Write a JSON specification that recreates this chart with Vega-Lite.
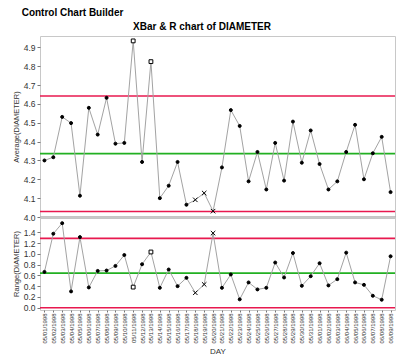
{
  "$schema": "https://vega.github.io/schema/vega-lite/v6.json",
  "padding": {"left": 11, "top": 7, "right": 5, "bottom": 2},
  "background": "white",
  "spacing": 0,
  "bounds": "flush",
  "title": {"text": "Control Chart Builder", "anchor": "start", "fontSize": 10, "fontWeight": "bold", "font": "Liberation Sans", "color": "#000000", "dx": 10, "offset": 4},
  "config": {
    "font": "Liberation Sans",
    "view": {"stroke": "#c8c8c8"},
    "axis": {"labelColor": "#333333", "titleColor": "#333333", "titleFontWeight": "normal", "grid": false, "tickColor": "#777777", "domain": false, "labelOverlap": false},
    "axisY": {"labelOverlap": false, "labelSeparation": 0},
    "axisQuantitative": {"labelOverlap": false}
  },
  "datasets": {
    "samples": [
      {"DAY": "05/01/1998", "Average": 4.300, "Range": 0.666, "Marker": "Dot"},
      {"DAY": "05/02/1998", "Average": 4.317, "Range": 1.376, "Marker": "Dot"},
      {"DAY": "05/03/1998", "Average": 4.531, "Range": 1.572, "Marker": "Dot"},
      {"DAY": "05/04/1998", "Average": 4.498, "Range": 0.303, "Marker": "Dot"},
      {"DAY": "05/05/1998", "Average": 4.113, "Range": 1.313, "Marker": "Dot"},
      {"DAY": "05/06/1998", "Average": 4.579, "Range": 0.377, "Marker": "Dot"},
      {"DAY": "05/07/1998", "Average": 4.437, "Range": 0.684, "Marker": "Dot"},
      {"DAY": "05/08/1998", "Average": 4.632, "Range": 0.691, "Marker": "Dot"},
      {"DAY": "05/09/1998", "Average": 4.389, "Range": 0.777, "Marker": "Dot"},
      {"DAY": "05/10/1998", "Average": 4.393, "Range": 0.980, "Marker": "Dot"},
      {"DAY": "05/11/1998", "Average": 4.934, "Range": 0.383, "Marker": "Square"},
      {"DAY": "05/12/1998", "Average": 4.292, "Range": 0.808, "Marker": "Dot"},
      {"DAY": "05/13/1998", "Average": 4.824, "Range": 1.036, "Marker": "Square"},
      {"DAY": "05/14/1998", "Average": 4.100, "Range": 0.370, "Marker": "Dot"},
      {"DAY": "05/15/1998", "Average": 4.166, "Range": 0.710, "Marker": "Dot"},
      {"DAY": "05/16/1998", "Average": 4.292, "Range": 0.401, "Marker": "Dot"},
      {"DAY": "05/17/1998", "Average": 4.065, "Range": 0.555, "Marker": "Dot"},
      {"DAY": "05/18/1998", "Average": 4.091, "Range": 0.277, "Marker": "X"},
      {"DAY": "05/19/1998", "Average": 4.127, "Range": 0.433, "Marker": "X"},
      {"DAY": "05/20/1998", "Average": 4.031, "Range": 1.387, "Marker": "X"},
      {"DAY": "05/21/1998", "Average": 4.263, "Range": 0.370, "Marker": "Dot"},
      {"DAY": "05/22/1998", "Average": 4.567, "Range": 0.618, "Marker": "Dot"},
      {"DAY": "05/23/1998", "Average": 4.483, "Range": 0.155, "Marker": "Dot"},
      {"DAY": "05/24/1998", "Average": 4.189, "Range": 0.470, "Marker": "Dot"},
      {"DAY": "05/25/1998", "Average": 4.345, "Range": 0.340, "Marker": "Dot"},
      {"DAY": "05/26/1998", "Average": 4.146, "Range": 0.370, "Marker": "Dot"},
      {"DAY": "05/27/1998", "Average": 4.393, "Range": 0.840, "Marker": "Dot"},
      {"DAY": "05/28/1998", "Average": 4.193, "Range": 0.562, "Marker": "Dot"},
      {"DAY": "05/29/1998", "Average": 4.506, "Range": 1.017, "Marker": "Dot"},
      {"DAY": "05/30/1998", "Average": 4.288, "Range": 0.407, "Marker": "Dot"},
      {"DAY": "05/31/1998", "Average": 4.459, "Range": 0.586, "Marker": "Dot"},
      {"DAY": "06/01/1998", "Average": 4.281, "Range": 0.827, "Marker": "Dot"},
      {"DAY": "06/02/1998", "Average": 4.146, "Range": 0.414, "Marker": "Dot"},
      {"DAY": "06/03/1998", "Average": 4.189, "Range": 0.531, "Marker": "Dot"},
      {"DAY": "06/04/1998", "Average": 4.345, "Range": 1.024, "Marker": "Dot"},
      {"DAY": "06/05/1998", "Average": 4.489, "Range": 0.470, "Marker": "Dot"},
      {"DAY": "06/06/1998", "Average": 4.200, "Range": 0.425, "Marker": "Dot"},
      {"DAY": "06/07/1998", "Average": 4.338, "Range": 0.222, "Marker": "Dot"},
      {"DAY": "06/08/1998", "Average": 4.425, "Range": 0.148, "Marker": "Dot"},
      {"DAY": "06/09/1998", "Average": 4.132, "Range": 0.956, "Marker": "Dot"}
    ],
    "limits": [
      {"Chart": "Average", "Limit": "UCL", "Value": 4.642},
      {"Chart": "Average", "Limit": "CL", "Value": 4.336},
      {"Chart": "Average", "Limit": "LCL", "Value": 4.029},
      {"Chart": "Range", "Limit": "UCL", "Value": 1.289},
      {"Chart": "Range", "Limit": "CL", "Value": 0.643},
      {"Chart": "Range", "Limit": "LCL", "Value": 0}
    ]
  },
  "vconcat": [
    {
      "width": 355,
      "height": 181,
      "title": {"text": "XBar & R chart of DIAMETER", "anchor": "middle", "frame": "bounds", "fontSize": 10, "fontWeight": "bold", "color": "#000000", "offset": 4, "dx": -2},
      "encoding": {
        "y": {"type": "quantitative", "scale": {"domain": [4.0, 4.96], "nice": false, "zero": false},
          "axis": {"title": "Average(DIAMETER)", "values": [4.0, 4.1, 4.2, 4.3, 4.4, 4.5, 4.6, 4.7, 4.8, 4.9], "format": ".1f", "labelOverlap": false, "tickSize": 3, "labelFontSize": 8.5, "titleFontSize": 7.5, "labelPadding": 2, "titlePadding": 3}}
      },
      "layer": [
        {
          "data": {"name": "limits"},
          "transform": [{"filter": "datum.Chart == 'Average'"}],
          "mark": {"type": "rule", "strokeWidth": 1.6},
          "encoding": {
            "y": {"field": "Value"},
            "color": {"field": "Limit", "type": "nominal", "scale": {"domain": ["UCL", "CL", "LCL"], "range": ["#e8194f", "#22b022", "#e8194f"]}, "legend": null}
          }
        },
        {
          "data": {"name": "samples"},
          "mark": {"type": "line", "color": "#a3a3a3", "strokeWidth": 1},
          "encoding": {
            "x": {"field": "DAY", "type": "ordinal", "sort": null, "axis": {"labels": false, "ticks": false, "title": null, "domain": true, "domainColor": "#8c8c8c", "domainWidth": 2}},
            "y": {"field": "Average"}
          }
        },
        {
          "data": {"name": "samples"},
          "mark": {"type": "point", "filled": true, "stroke": "black", "strokeWidth": 1, "opacity": 1},
          "encoding": {
            "x": {"field": "DAY", "type": "ordinal", "sort": null},
            "y": {"field": "Average"},
            "shape": {"field": "Marker", "type": "nominal", "scale": {"domain": ["Dot", "Square", "X"], "range": ["circle", "square", "M-1,-1L1,1M-1,1L1,-1"]}, "legend": null},
            "fill": {"field": "Marker", "type": "nominal", "scale": {"domain": ["Dot", "Square", "X"], "range": ["black", "white", "transparent"]}, "legend": null},
            "size": {"field": "Marker", "type": "nominal", "scale": {"domain": ["Dot", "Square", "X"], "range": [9, 20, 22]}, "legend": null}
          }
        }
      ]
    },
    {
      "width": 355,
      "height": 93,
      "encoding": {
        "y": {"type": "quantitative", "scale": {"domain": [-0.043, 1.687], "nice": false, "zero": false},
          "axis": {"title": "Range(DIAMETER)", "values": [0, 0.2, 0.4, 0.6, 0.8, 1.0, 1.2, 1.4], "format": ".1f", "labelOverlap": false, "tickSize": 3, "labelFontSize": 8.5, "titleFontSize": 7.5, "labelPadding": 2, "titlePadding": 3}}
      },
      "layer": [
        {
          "data": {"name": "limits"},
          "transform": [{"filter": "datum.Chart == 'Range'"}],
          "mark": {"type": "rule", "strokeWidth": 1.6},
          "encoding": {
            "y": {"field": "Value"},
            "color": {"field": "Limit", "type": "nominal", "scale": {"domain": ["UCL", "CL", "LCL"], "range": ["#e8194f", "#22b022", "#e8194f"]}, "legend": null}
          }
        },
        {
          "data": {"name": "samples"},
          "mark": {"type": "line", "color": "#a3a3a3", "strokeWidth": 1},
          "encoding": {
            "x": {"field": "DAY", "type": "ordinal", "sort": null, "axis": {"title": "DAY", "labelAngle": -90, "labelFontSize": 6, "tickSize": 2, "labelPadding": 1, "titleFontSize": 8, "titlePadding": 4}},
            "y": {"field": "Range"}
          }
        },
        {
          "data": {"name": "samples"},
          "mark": {"type": "point", "filled": true, "stroke": "black", "strokeWidth": 1, "opacity": 1},
          "encoding": {
            "x": {"field": "DAY", "type": "ordinal", "sort": null},
            "y": {"field": "Range"},
            "shape": {"field": "Marker", "type": "nominal", "scale": {"domain": ["Dot", "Square", "X"], "range": ["circle", "square", "M-1,-1L1,1M-1,1L1,-1"]}, "legend": null},
            "fill": {"field": "Marker", "type": "nominal", "scale": {"domain": ["Dot", "Square", "X"], "range": ["black", "white", "transparent"]}, "legend": null},
            "size": {"field": "Marker", "type": "nominal", "scale": {"domain": ["Dot", "Square", "X"], "range": [9, 20, 22]}, "legend": null}
          }
        }
      ]
    }
  ]
}
